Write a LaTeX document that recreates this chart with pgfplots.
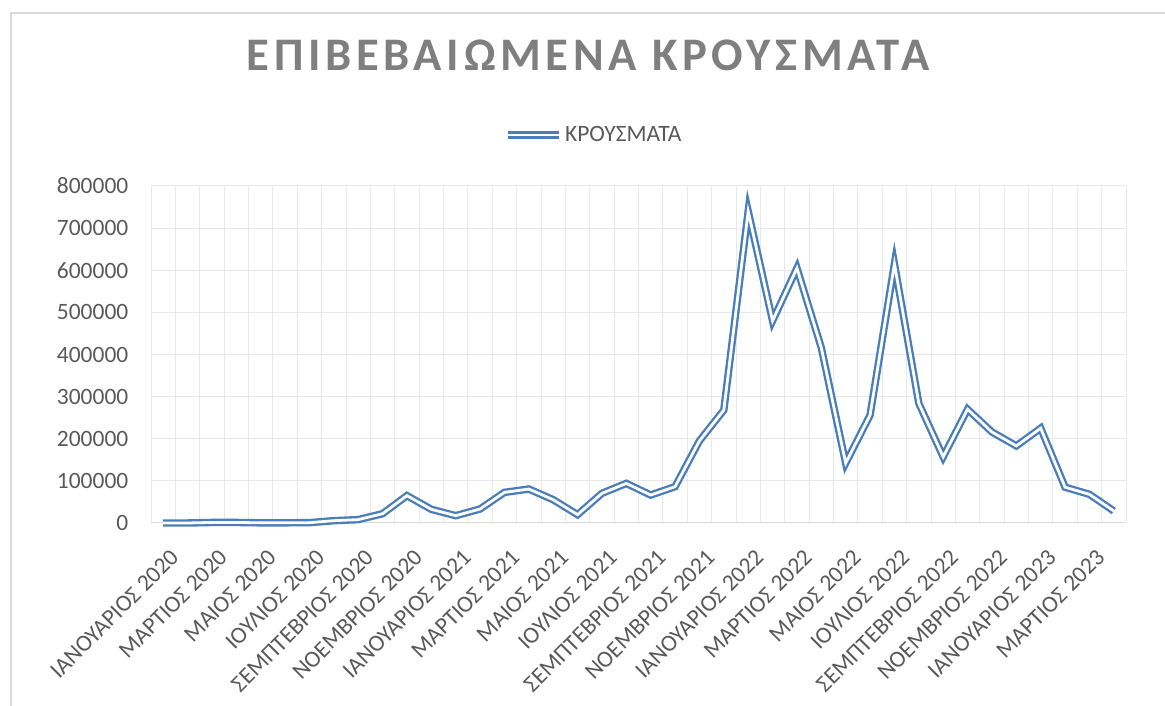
\documentclass[border=0pt]{standalone}
\usepackage{fontspec}
\setmainfont{Carlito}
\newfontfamily\titlefont[LetterSpace=10]{Carlito}
\usepackage{pgfplots}
\usepackage{pgfplotstable}
\pgfplotsset{compat=1.18}
\definecolor{linec}{HTML}{4A7EBB}
\definecolor{gridc}{HTML}{E8E8E8}
\definecolor{axisc}{HTML}{D9D9D9}
\definecolor{labc}{HTML}{595959}
\definecolor{titlec}{HTML}{7F7F7F}
\definecolor{bordc}{HTML}{D9D9D9}
\pgfplotstableread{
x y
0 0
1 0
2 1300
3 1300
4 400
5 500
6 800
7 5500
8 8000
9 22000
10 65000
11 32400
12 17400
13 33200
14 72700
15 80600
16 55300
17 19800
18 70400
19 94000
20 66400
21 86200
22 195000
23 268000
24 740000
25 480000
26 605000
27 416000
28 142000
29 256000
30 615000
31 284000
32 157000
33 270000
34 216000
35 183000
36 225000
37 85000
38 68000
39 28500
}\cases
\begin{document}
\begin{tikzpicture}
\useasboundingbox (0pt,0pt) rectangle (873.75pt,529.5pt);
\draw[bordc, line width=1.1pt] (8.25pt,0pt) -- (8.25pt,519.75pt) -- (873.75pt,519.75pt);
\begin{axis}[
  at={(113.25pt,137.25pt)}, anchor=south west,
  scale only axis, width=731.25pt, height=252.75pt,
  xmin=-0.5, xmax=39.5, ymin=0, ymax=800000,
  ytick={0,100000,200000,300000,400000,500000,600000,700000,800000},
  xtick={0,2,...,38},
  xticklabels={ΙΑΝΟΥΑΡΙΟΣ 2020, ΜΑΡΤΙΟΣ 2020, ΜΑΙΟΣ 2020, ΙΟΥΛΙΟΣ 2020, ΣΕΜΠΤΕΒΡΙΟΣ 2020, ΝΟΕΜΒΡΙΟΣ 2020, ΙΑΝΟΥΑΡΙΟΣ 2021, ΜΑΡΤΙΟΣ 2021, ΜΑΙΟΣ 2021, ΙΟΥΛΙΟΣ 2021, ΣΕΜΠΤΕΒΡΙΟΣ 2021, ΝΟΕΜΒΡΙΟΣ 2021, ΙΑΝΟΥΑΡΙΟΣ 2022, ΜΑΡΤΙΟΣ 2022, ΜΑΙΟΣ 2022, ΙΟΥΛΙΟΣ 2022, ΣΕΜΠΤΕΒΡΙΟΣ 2022, ΝΟΕΜΒΡΙΟΣ 2022, ΙΑΝΟΥΑΡΙΟΣ 2023, ΜΑΡΤΙΟΣ 2023},
  minor xtick={-0.5,0.5,...,39.5},
  xmajorgrids=false, xminorgrids=true, ymajorgrids=true,
  major grid style={draw=gridc, line width=0.75pt},
  minor grid style={draw=gridc, line width=0.75pt},
  major tick length=0pt, minor tick length=0pt,
  axis x line*=bottom, axis y line*=left,
  x axis line style={draw=axisc, line width=0.75pt, -},
  y axis line style={draw=none},
  tick label style={font=\fontsize{17.6pt}{21pt}\selectfont, text=labc},
  yticklabel style={xshift=-13.5pt, /pgf/number format/.cd, fixed, 1000 sep={}},
  xticklabel style={xshift=8.5pt, yshift=-22.9pt, rotate=45, anchor=east, inner sep=0pt},
  scaled y ticks=false,
  /pgf/number format/assume math mode=true,
  clip=false,
  title={\titlefont\bfseries ΕΠΙΒΕΒΑΙΩΜΕΝΑ ΚΡΟΥΣΜΑΤΑ},
  title style={at={(0.4482,1.3196)}, anchor=base, font=\fontsize{35pt}{40pt}\selectfont, text=titlec, inner sep=0pt},
  legend style={at={(0.362,1.1513)}, anchor=west, draw=none, fill=none, inner sep=0pt, outer sep=0pt,
    font=\fontsize{17.6pt}{21pt}\selectfont, text=labc},
  legend cell align=left,
  legend image code/.code={\draw[#1] (0pt,0pt) -- (38.25pt,0pt);},
]
\addplot[linec, line width=1.75pt, double=white, double distance=2.1pt, line join=miter, miter limit=20, mark=none] table[x=x,y=y] {\cases};
\addlegendentry{ΚΡΟΥΣΜΑΤΑ}
\end{axis}
\end{tikzpicture}
\end{document}
